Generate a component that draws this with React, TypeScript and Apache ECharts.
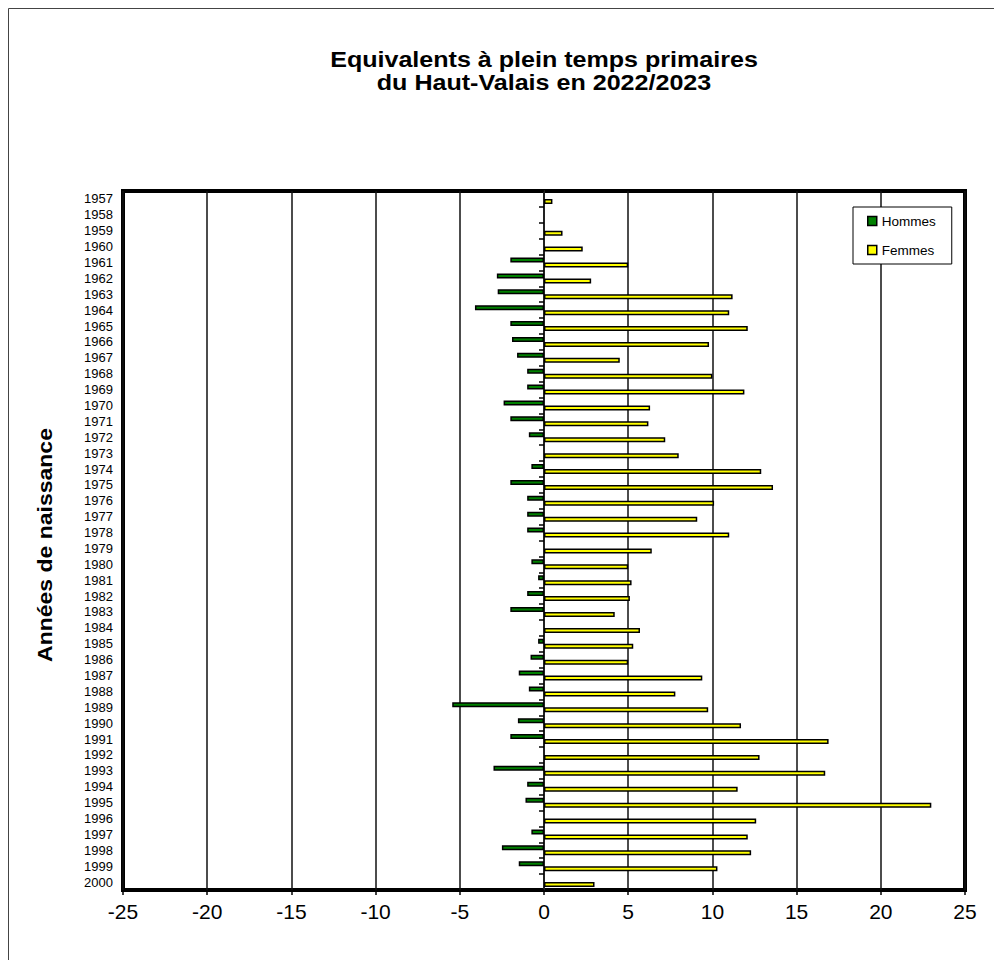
import React, { useEffect, useRef } from "react";
import * as echarts from "echarts";

const years = [
  "1957", "1958", "1959", "1960", "1961", "1962", "1963", "1964", "1965", "1966",
  "1967", "1968", "1969", "1970", "1971", "1972", "1973", "1974", "1975", "1976",
  "1977", "1978", "1979", "1980", "1981", "1982", "1983", "1984", "1985", "1986",
  "1987", "1988", "1989", "1990", "1991", "1992", "1993", "1994", "1995", "1996",
  "1997", "1998", "1999", "2000",
];

const hommes = [
  0, 0, 0, 0, -2.0, -2.8, -2.75, -4.1, -2.0, -1.9,
  -1.6, -1.0, -1.0, -2.4, -2.0, -0.9, 0, -0.75, -2.0, -1.0,
  -1.0, -1.0, 0, -0.75, -0.35, -1.0, -2.0, 0, -0.35, -0.8,
  -1.5, -0.9, -5.45, -1.55, -2.0, 0, -3.0, -1.0, -1.1, 0,
  -0.75, -2.5, -1.5, 0,
];

const femmes = [
  0.5, 0, 1.1, 2.3, 5.0, 2.8, 11.2, 11.0, 12.1, 9.8,
  4.5, 10.0, 11.9, 6.3, 6.2, 7.2, 8.0, 12.9, 13.6, 10.1,
  9.1, 11.0, 6.4, 5.0, 5.2, 5.1, 4.2, 5.7, 5.3, 5.0,
  9.4, 7.8, 9.75, 11.7, 16.9, 12.8, 16.7, 11.5, 23.0, 12.6,
  12.1, 12.3, 10.3, 3.0,
];

const xTicks = { min: -25, max: 25, interval: 5 };
const titleLines = ["Equivalents à plein temps primaires", "du Haut-Valais en 2022/2023"];
const yName = "Années de naissance";
const seriesNames = ["Hommes", "Femmes"];

const FONT = "'Liberation Sans', Arial, sans-serif";

export default function App() {
  const ref = useRef<HTMLDivElement>(null);
  useEffect(() => {
    if (!ref.current) return;
    const chart = echarts.init(ref.current, null, { renderer: "svg" });
    const nz = (v: number) => (v === 0 ? null : v);
    chart.setOption({
      animation: false,
      backgroundColor: "#fff",
      textStyle: { fontFamily: FONT },
      graphic: [
        {
          type: "rect",
          shape: { x: 8.5, y: 8.5, width: 1200, height: 1200 },
          style: { fill: "none", stroke: "#444", lineWidth: 1 },
          silent: true,
        },
        {
          type: "text",
          x: 544,
          y: 60,
          scaleX: 1.14,
          style: {
            text: titleLines[0],
            font: `bold 22px ${FONT}`,
            fill: "#000",
            textAlign: "center",
            textVerticalAlign: "middle",
          },
        },
        {
          type: "text",
          x: 544,
          y: 83,
          scaleX: 1.14,
          style: {
            text: titleLines[1],
            font: `bold 22px ${FONT}`,
            fill: "#000",
            textAlign: "center",
            textVerticalAlign: "middle",
          },
        },
        {
          type: "text",
          x: 45,
          y: 545,
          rotation: Math.PI / 2,
          scaleX: 1.15,
          style: {
            text: yName,
            font: `bold 20px ${FONT}`,
            fill: "#000",
            textAlign: "center",
            textVerticalAlign: "middle",
          },
        },
      ],
      legend: {
        orient: "vertical",
        left: 853,
        top: 207,
        padding: [7, 16, 7, 14],
        itemGap: 15,
        itemWidth: 9,
        itemHeight: 9,
        icon: "rect",
        borderColor: "#000",
        borderWidth: 1,
        backgroundColor: "#fff",
        textStyle: { fontSize: 13.5, color: "#000", fontFamily: FONT },
        itemStyle: { borderColor: "#000", borderWidth: 1.5 },
        data: seriesNames,
      },
      grid: {
        left: 123,
        right: 29,
        top: 191,
        bottom: 70,
        show: true,
        borderColor: "#000",
        borderWidth: 4,
        backgroundColor: "#fff",
      },
      xAxis: {
        type: "value",
        min: xTicks.min,
        max: xTicks.max,
        interval: xTicks.interval,
        axisLine: { show: false, onZero: false },
        axisTick: { show: true, length: 5, lineStyle: { color: "#000", width: 1.5 } },
        axisLabel: { fontSize: 21, color: "#000", margin: 11, fontFamily: FONT },
        splitLine: { show: true, lineStyle: { color: "#111", width: 1.5 } },
      },
      yAxis: [
        {
          type: "category",
          data: years,
          inverse: true,
          axisLine: { show: false, onZero: false },
          axisTick: { show: false },
          axisLabel: { fontSize: 13, color: "#000", margin: 10, fontFamily: FONT, interval: 0 },
          splitLine: { show: false },
        },
        {
          type: "category",
          data: years,
          inverse: true,
          position: "left",
          axisLine: { show: true, onZero: true, lineStyle: { color: "#222", width: 2 } },
          axisTick: { show: true, length: 5, interval: 0, lineStyle: { color: "#000", width: 1.5 } },
          axisLabel: { show: false },
          splitLine: { show: false },
        },
      ],
      series: [
        {
          name: seriesNames[0],
          type: "bar",
          yAxisIndex: 0,
          data: hommes.map(nz),
          barWidth: 5,
          barGap: "0%",
          itemStyle: { color: "#008000", borderColor: "#000", borderWidth: 1.5 },
        },
        {
          name: seriesNames[1],
          type: "bar",
          yAxisIndex: 0,
          data: femmes.map(nz),
          barWidth: 5,
          barGap: "0%",
          itemStyle: { color: "#FFFF00", borderColor: "#000", borderWidth: 1.5 },
        },
      ],
    });
    return () => chart.dispose();
  }, []);
  return (
    <div
      ref={ref}
      style={{ position: "absolute", left: 0, top: 0, width: 994, height: 960 }}
    />
  );
}
